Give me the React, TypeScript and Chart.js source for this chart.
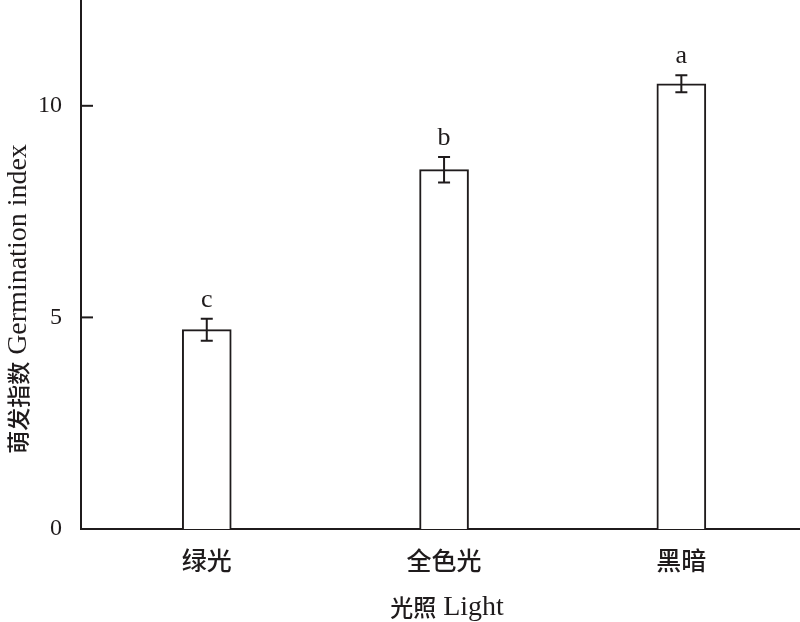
import React, { useEffect, useRef } from "react";
import { Chart, registerables } from "chart.js";

Chart.register(...registerables);

// Germination index by light treatment
const categories = ["绿光", "全色光", "黑暗"];
const means = [4.71, 8.49, 10.52];
const errors = [0.26, 0.3, 0.2];
const letters = ["c", "b", "a"];
const yTicks = [0, 5, 10];

const INK = "#1f1b1c";
const SERIF = '"Liberation Serif", "Times New Roman", serif';
const CJK = '"Noto Sans CJK SC", sans-serif';

// Draws a title made of a Chinese part and a Latin part in their own fonts
function drawMixedTitle(
  ctx: CanvasRenderingContext2D,
  cjk: string,
  latin: string,
  cx: number,
  cy: number,
  rotate: boolean
) {
  const cjkFont = `500 23px ${CJK}`;
  const latFont = `28px ${SERIF}`;
  ctx.save();
  ctx.font = cjkFont;
  const w1 = ctx.measureText(cjk).width;
  ctx.font = latFont;
  const gap = 7;
  const w2 = ctx.measureText(latin).width;
  const total = w1 + gap + w2;
  ctx.translate(cx, cy);
  if (rotate) ctx.rotate(-Math.PI / 2);
  ctx.fillStyle = INK;
  ctx.textBaseline = "middle";
  ctx.textAlign = "left";
  ctx.font = cjkFont;
  ctx.fillText(cjk, -total / 2, 0);
  ctx.font = latFont;
  ctx.fillText(latin, -total / 2 + w1 + gap, 1);
  ctx.restore();
}

const decorations = {
  id: "decorations",
  afterDatasetsDraw(chart: any) {
    const { ctx, scales, chartArea } = chart;
    const xs = scales.x;
    const ys = scales.y;
    ctx.save();
    ctx.strokeStyle = INK;
    ctx.lineWidth = 2;

    // inward tick marks on the value axis
    yTicks.forEach((t) => {
      const py = ys.getPixelForValue(t);
      ctx.beginPath();
      ctx.moveTo(chartArea.left, py);
      ctx.lineTo(chartArea.left + 12, py);
      ctx.stroke();
    });

    // error bars and significance letters
    means.forEach((m, i) => {
      const px = xs.getPixelForValue(i);
      const top = ys.getPixelForValue(m + errors[i]);
      const bot = ys.getPixelForValue(m - errors[i]);
      ctx.beginPath();
      ctx.moveTo(px, top);
      ctx.lineTo(px, bot);
      ctx.moveTo(px - 6, top);
      ctx.lineTo(px + 6, top);
      ctx.moveTo(px - 6, bot);
      ctx.lineTo(px + 6, bot);
      ctx.stroke();

      ctx.fillStyle = INK;
      ctx.font = `26px ${SERIF}`;
      ctx.textAlign = "center";
      ctx.textBaseline = "alphabetic";
      ctx.fillText(letters[i], px, top - 12);
    });
    ctx.restore();

    drawMixedTitle(ctx, "萌发指数", "Germination index", 18, 299, true);
    drawMixedTitle(ctx, "光照", "Light", 447, 607, false);
  },
};

export default function App() {
  const ref = useRef<HTMLCanvasElement>(null);

  useEffect(() => {
    document.body.style.margin = "0";
    const canvas = ref.current;
    if (!canvas) return;
    const chart = new Chart(canvas, {
      type: "bar",
      data: {
        datasets: [
          {
            data: means.map((v, i) => ({ x: i, y: v })),
            backgroundColor: "#ffffff",
            borderColor: INK,
            borderWidth: 2,
            barThickness: 49,
          },
        ],
      },
      options: {
        responsive: false,
        animation: false,
        devicePixelRatio: 1,
        layout: { padding: 0 },
        plugins: {
          legend: { display: false },
          tooltip: { enabled: false },
          title: { display: false },
        },
        scales: {
          x: {
            type: "linear",
            offset: false,
            bounds: "ticks",
            min: -0.53,
            max: 2.5,
            grid: { display: false, drawTicks: false, offset: false },
            border: { display: true, color: INK, width: 2 },
            afterBuildTicks: (scale: any) => {
              scale.ticks = categories.map((_, i) => ({ value: i }));
            },
            afterDataLimits: (scale: any) => {
              scale.min = -0.53;
              scale.max = 2.5;
            },
            afterFit: (scale: any) => {
              scale.height = 93;
              scale.paddingLeft = 0;
              scale.paddingRight = 0;
            },
            ticks: {
              autoSkip: false,
              maxRotation: 0,
              padding: 16,
              color: INK,
              font: { family: CJK, size: 25, weight: "500" },
              callback: (v: any) => categories[v as number] ?? "",
            },
          },
          y: {
            min: 0,
            max: 12.5,
            grid: { display: false, drawTicks: false },
            border: { display: true, color: INK, width: 2 },
            afterBuildTicks: (scale: any) => {
              scale.ticks = yTicks.map((v) => ({ value: v }));
            },
            afterFit: (scale: any) => {
              scale.width = 81;
              scale.paddingTop = 0;
              scale.paddingBottom = 0;
            },
            ticks: {
              padding: 19,
              color: INK,
              font: { family: SERIF, size: 24 },
            },
          },
        },
      },
      plugins: [decorations],
    });
    return () => chart.destroy();
  }, []);

  return <canvas ref={ref} width={800} height={622} style={{ display: "block" }} />;
}
